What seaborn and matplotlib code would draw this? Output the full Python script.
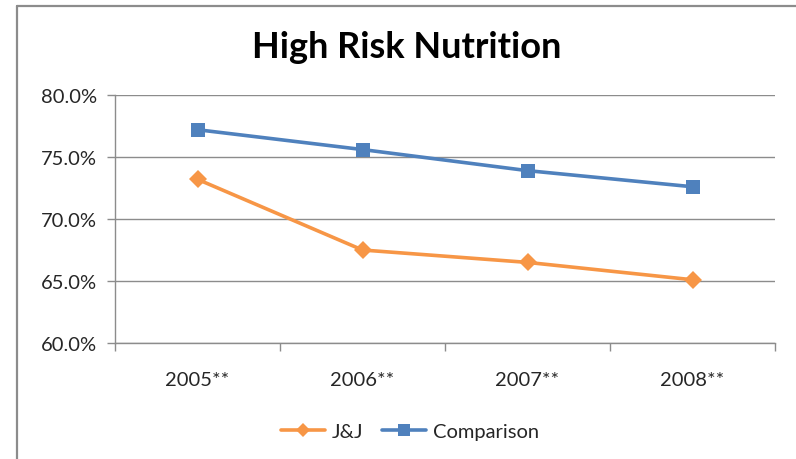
import matplotlib
matplotlib.use("Agg")
import matplotlib.pyplot as plt
from matplotlib.lines import Line2D
import seaborn as sns
import pandas as pd

years = ["2005**", "2006**", "2007**", "2008**"]
jj = [73.2, 67.5, 66.5, 65.1]
comparison = [77.2, 75.6, 73.9, 72.6]
y_ticks = [60, 65, 70, 75, 80]

series_names = ["J&J", "Comparison"]
colors = {"J&J": "#F79646", "Comparison": "#4F81BD"}
markers = {"J&J": "D", "Comparison": "s"}

df = pd.DataFrame({
    "pos": list(range(len(years))) * 2,
    "value": jj + comparison,
    "series": ["J&J"] * len(jj) + ["Comparison"] * len(comparison),
})

sns.set_theme(style="white")
plt.rcParams["font.family"] = ["Lato", "DejaVu Sans"]

fig = plt.figure(figsize=(7.96, 4.6), dpi=100)
ax = fig.add_axes([115 / 796, 1 - 344 / 460, (775 - 115) / 796, (344 - 96) / 460])

grid_c = "#8C8C8C"
label_c = "#262626"
fs = 14.5
for name in series_names:
    sub = df[df["series"] == name]
    sns.lineplot(data=sub, x="pos", y="value", ax=ax, color=colors[name],
                 marker=markers[name], markersize=10.5 if name == "Comparison" else 9,
                 markeredgewidth=0, linewidth=2.6, legend=False)

ax.set_xlim(-0.5, len(years) - 0.5)
ax.set_ylim(y_ticks[0], y_ticks[-1])
ax.set_yticks(y_ticks)
ax.set_yticklabels([f"{v:.1f}%" for v in y_ticks], fontsize=fs, color=label_c)
ax.yaxis.grid(True, color=grid_c, linewidth=1)
ax.set_axisbelow(True)

# category boundaries carry the tick marks, labels sit at category centres
ax.set_xticks([i - 0.5 for i in range(len(years) + 1)])
ax.set_xticklabels([])
ax.set_xticks(range(len(years)), minor=True)
ax.set_xticklabels(years, minor=True, fontsize=fs, color=label_c)
ax.tick_params(axis="x", which="major", length=6, color=grid_c, width=1, bottom=True)
ax.tick_params(axis="x", which="minor", length=0, pad=20)
ax.tick_params(axis="y", which="major", length=6, color=grid_c, width=1, left=True, pad=7)
ax.set_xlabel("")
ax.set_ylabel("")

for side in ["top", "right"]:
    ax.spines[side].set_visible(False)
for side in ["left", "bottom"]:
    ax.spines[side].set_color(grid_c)
    ax.spines[side].set_linewidth(1)

fig.text(407 / 796, 1 - 48 / 460, "High Risk Nutrition", ha="center", va="center",
         fontsize=26, fontweight="bold", color="black")

handles = [Line2D([0], [0], color=colors[n], marker=markers[n], linewidth=2.6,
                  markersize=8 if n == "Comparison" else 7, markeredgewidth=0)
           for n in series_names]
fig.legend(handles, series_names, loc="center", bbox_to_anchor=(410 / 796, 1 - 432 / 460),
           ncol=2, frameon=False, fontsize=fs, handlelength=2.2, columnspacing=0.9,
           handletextpad=0.35, labelcolor=label_c)

# outer chart frame (left and top edges)
fig.add_artist(Line2D([16.5 / 796, 16.5 / 796], [0, 1 - 6.5 / 460], color="#8C8C8C",
                      linewidth=1.6, transform=fig.transFigure))
fig.add_artist(Line2D([16.5 / 796, 1], [1 - 6.5 / 460, 1 - 6.5 / 460], color="#8C8C8C",
                      linewidth=1.6, transform=fig.transFigure))

fig.savefig("out.png", dpi=100, facecolor="white")
